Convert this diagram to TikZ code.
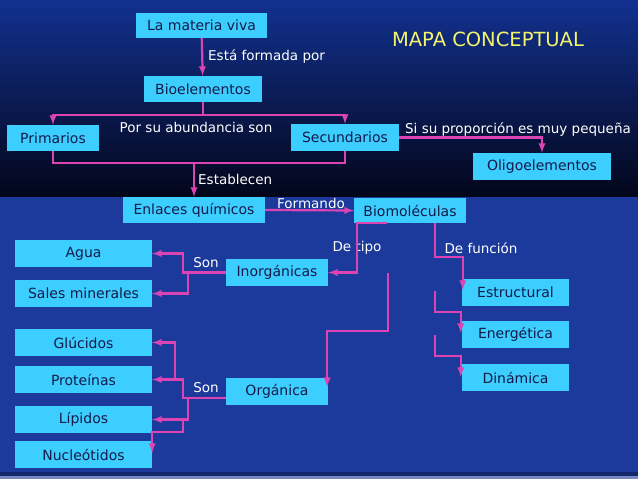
\documentclass[tikz,border=0pt]{standalone}
\usepackage{fontspec}
\setmainfont{DejaVu Sans}
\usepackage{tikz}
\usetikzlibrary{arrows, positioning}

\begin{document}
\begin{tikzpicture}[x=1pt, y=-1pt, font=\fontsize{13.5}{16}\selectfont, >=latex,
  concept/.style={fill=boxcyan, text=boxtext, inner sep=0pt, minimum height=26pt, font=\fontsize{14}{16}\selectfont},
  tag/.style={text=white, inner sep=1pt},
  link/.style={draw=linkpink, line width=2.2pt}]
  \definecolor{boxcyan}{HTML}{3CCEFF}
  \definecolor{boxtext}{HTML}{141A4A}
  \definecolor{linkpink}{HTML}{DC44B4}
  \definecolor{bgtop}{HTML}{12318F}
  \definecolor{bgmid}{HTML}{0A1C5C}
  \definecolor{bgbottom}{HTML}{03061A}
  \definecolor{bgblue}{HTML}{1C3A9C}
  \definecolor{titleyellow}{HTML}{F4F46A}

  % Background
  \shade[top color=bgtop, middle color=bgmid, bottom color=bgbottom] (0,0) rectangle (638,197);
  \fill[bgblue] (0,197) rectangle (638,479);
  \fill[bgblue!70!black] (0,472) rectangle (638,476);
  \fill[bgblue!60!white] (0,476) rectangle (638,479);
  \useasboundingbox (0,0) rectangle (638,479);

  % Define positions
  \node (title) [text=titleyellow, font=\fontsize{19.5}{21}\selectfont] at (488,39) {MAPA CONCEPTUAL};

  \node (vida) [concept, minimum width=131pt, minimum height=25pt] at (201.5,25.5) {La materia viva};
  \node (bioel) [concept, minimum width=118pt] at (203,89) {Bioelementos};
  \node (prim) [concept, minimum width=92pt] at (53,138) {Primarios};
  \node (secun) [concept, minimum width=108pt, minimum height=27pt] at (345,137.5) {Secundarios};
  \node (oligo) [concept, minimum width=138pt, minimum height=27pt] at (542,166.5) {Oligoelementos};
  \node (enlaces) [concept, minimum width=142pt] at (194,210) {Enlaces químicos};
  \node (biomol) [concept, minimum width=112pt, minimum height=25pt] at (410,210.5) {Biomoléculas};

  \node (inorg) [concept, minimum width=102pt, minimum height=27pt] at (277,272.5) {Inorgánicas};
  \node (organ) [concept, minimum width=102pt, minimum height=27pt] at (277,391.5) {Orgánica};

  \node (agua) [concept, minimum width=137pt, minimum height=27pt] at (83.5,253.5) {Agua};
  \node (sales) [concept, minimum width=137pt, minimum height=27pt] at (83.5,293.5) {Sales minerales};
  \node (gluc) [concept, minimum width=137pt, minimum height=27pt] at (83.5,342.5) {Glúcidos};
  \node (prot) [concept, minimum width=137pt, minimum height=27pt] at (83.5,379.5) {Proteínas};
  \node (lipi) [concept, minimum width=137pt, minimum height=27pt] at (83.5,419.5) {Lípidos};
  \node (nucl) [concept, minimum width=137pt, minimum height=27pt] at (83.5,454.5) {Nucleótidos};

  \node (estr) [concept, minimum width=107pt, minimum height=27pt] at (515.5,292.5) {Estructural};
  \node (energ) [concept, minimum width=107pt, minimum height=27pt] at (515.5,334.5) {Energética};
  \node (dinam) [concept, minimum width=107pt, minimum height=27pt] at (515.5,377.5) {Dinámica};

  % Labels
  \node (formada) [tag, anchor=west] at (207,57) {Está formada por};
  \node (abund) [tag] at (196,127) {Por su abundancia son};
  \node (propor) [tag] at (518,130) {Si su proporción es muy pequeña};
  \node (establ) [tag, anchor=west] at (197,179) {Establecen};
  \node (formando) [tag] at (311,203) {Formando};
  \node (tipo) [tag] at (357,248) {De tipo};
  \node (funcion) [tag] at (481,248) {De función};
  \node (son1) [tag] at (206,263) {Son};
  \node (son2) [tag] at (206,388) {Son};

  % Loose ends
  \coordinate (orgsrc) at (388,273);
  \coordinate (enesrc) at (435,291);
  \coordinate (dinsrc) at (435,335);
  \coordinate (orgleft) at ([shift={(0,6.5)}]organ.west);

  % Arrows
  \draw[->, link] (vida) -- (bioel);
  \draw[->, link] (bioel.south) -- ++(0,13) -| (prim.north);
  \draw[->, link] (bioel.south) -- ++(0,13) -| (secun.north);
  \draw[link] (prim.south) -- ++(0,12) coordinate (join) -| (secun.south);
  \draw[->, link] (enlaces.north |- join) -- (enlaces.north);
  \draw[->, link] (secun.east) -| (oligo.north);
  \draw[->, link] (enlaces.east) -- (biomol.west);

  \draw[->, link] ([shift={(33,0)}]biomol.south west) -- ([shift={(3,0)}]biomol.south west) |- (inorg.east);
  \draw[->, link] (orgsrc) -- ++(0,58) -| ([shift={(-1,9)}]organ.north east);

  \draw[->, link] ([shift={(81,0)}]biomol.south west) -- ++(0,34) -| ([shift={(1,11)}]estr.north west);
  \draw[->, link] (enesrc) -- ++(0,21) -| ([shift={(-1,12)}]energ.north west);
  \draw[->, link] (dinsrc) -- ++(0,21) -| ([shift={(-1,13)}]dinam.north west);

  \draw[->, link] (inorg.west) -- ++(-43,0) |- (agua.east);
  \draw[->, link] (inorg.west) -- ++(-38,0) |- (sales.east);

  \draw[->, link] (orgleft) -- ++(-43,0) |- (prot.east);
  \draw[->, link] ([shift={(23,0)}]prot.east) |- (gluc.east);
  \draw[->, link] (orgleft) -- ++(-38,0) |- (lipi.east);
  \draw[->, link] ([shift={(31,1.5)}]lipi.east) -- ++(0,11) -| ([shift={(0,12)}]nucl.north east);
\end{tikzpicture}
\end{document}
